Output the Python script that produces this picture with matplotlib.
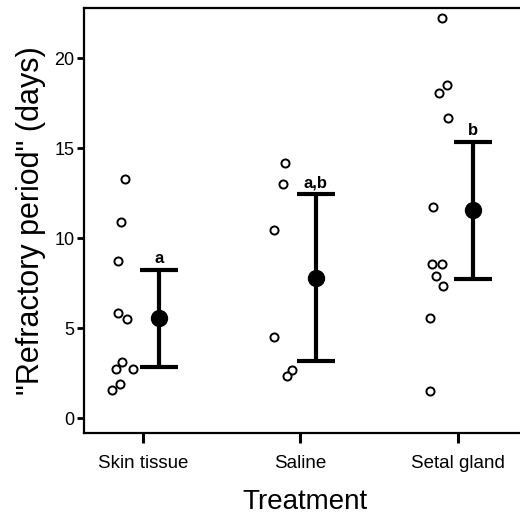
import matplotlib
matplotlib.use("Agg")
import matplotlib.pyplot as plt
import numpy as np

plt.rcParams['font.family'] = ['Liberation Sans', 'DejaVu Sans']

categories = ["Skin tissue", "Saline", "Setal gland"]
means = [5.53, 7.78, 11.53]
errs = [2.67, 4.64, 3.8]
letters = ["a", "a,b", "b"]

skin_vals = [13.28, 10.89, 8.72, 5.83, 5.50, 3.11, 2.72, 2.72, 1.89, 1.56]
skin_jit = [-0.115, -0.14, -0.16, -0.16, -0.10, -0.135, -0.17, -0.065, -0.145, -0.195]
saline_vals = [14.17, 13.0, 10.44, 4.5, 2.67, 2.33]
saline_jit = [-0.10, -0.11, -0.17, -0.17, -0.055, -0.085]
setal_vals = [22.2, 18.5, 18.05, 16.67, 11.72, 8.56, 8.56, 7.89, 7.33, 5.56, 1.5]
setal_jit = [-0.10, -0.07, -0.115, -0.06, -0.155, -0.165, -0.10, -0.14, -0.09, -0.175, -0.175]

groups = [(skin_vals, skin_jit), (saline_vals, saline_jit), (setal_vals, setal_jit)]

fig = plt.figure(figsize=(5.2, 5.21), dpi=100)
ax = fig.add_axes([0.1615, 0.169, 0.85, 0.8156])

xpos = np.arange(1, len(categories) + 1)
for i, (vals, jit) in enumerate(groups):
    ax.scatter(xpos[i] + np.array(jit), vals, s=34, facecolors='white',
               edgecolors='black', linewidths=1.4, zorder=3)

mx = xpos + 0.1
ax.errorbar(mx, means, yerr=errs, fmt='o', color='black', ms=11.5,
            elinewidth=3, capsize=13.5, capthick=3, zorder=4)
for x, m, e, t in zip(mx, means, errs, letters):
    ax.annotate(t, (x, m + e), xytext=(0, 3), textcoords='offset points',
                ha='center', va='bottom', fontsize=12, fontweight='bold')

ax.set_xlim(0.625, 3.435)
ax.set_ylim(-0.83, 22.78)
ax.set_xticks(xpos)
ax.set_xticklabels(categories, fontsize=13.5)
ax.set_yticks([0, 5, 10, 15, 20])
ax.tick_params(axis='y', labelsize=13, length=5, width=2, pad=2)
ax.tick_params(axis='x', length=7, width=2.2, pad=9)
for s in ax.spines.values():
    s.set_linewidth(1.6)

ax.set_ylabel('"Refractory period" (days)', fontsize=22, labelpad=6)
ax.set_xlabel('Treatment', fontsize=20, labelpad=12)

fig.savefig("out.png", dpi=100)
